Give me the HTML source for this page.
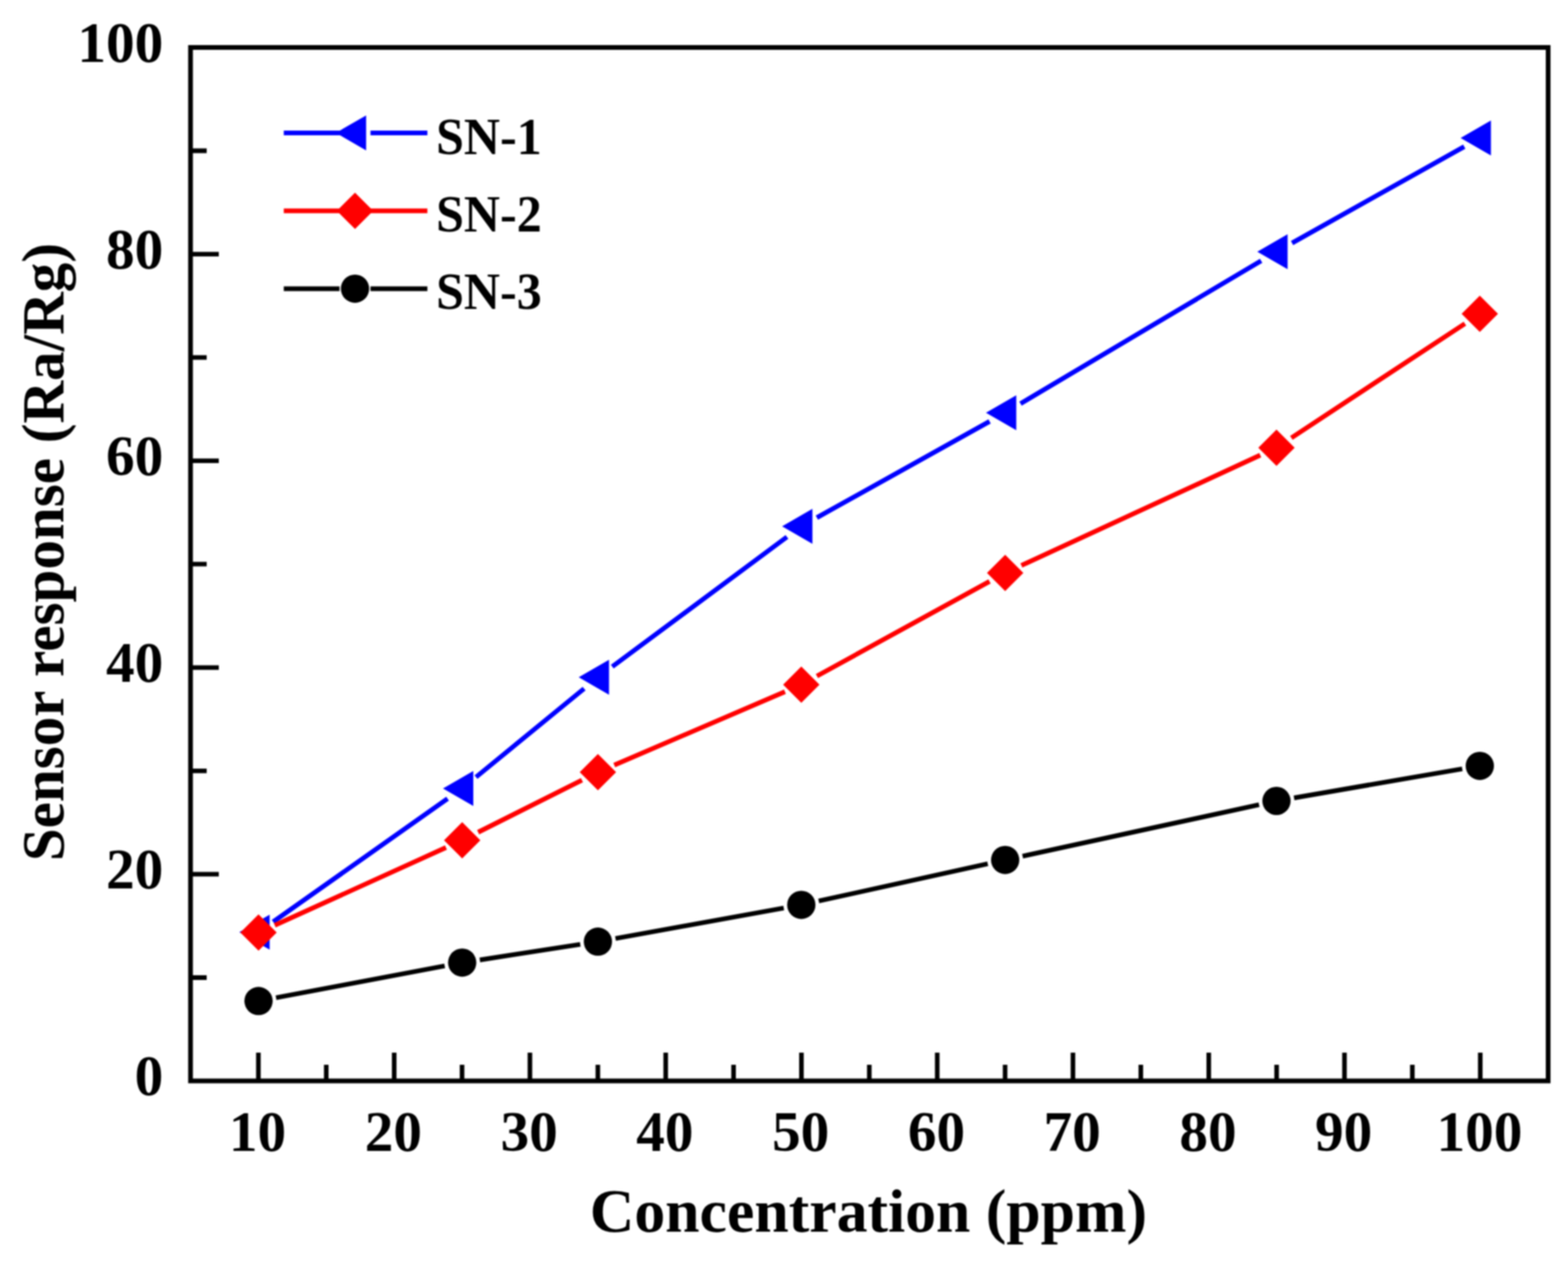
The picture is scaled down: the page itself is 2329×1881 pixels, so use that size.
<!DOCTYPE html>
<html><head><meta charset="utf-8"><title>Sensor response vs concentration</title>
<style>html,body{margin:0;padding:0;background:#fff;overflow:hidden;}svg{display:block;}#w{filter:blur(1px);}</style></head>
<body><div id="w"><svg width="2329" height="1881" viewBox="0 0 2329 1881">
<rect width="2329" height="1881" fill="#fff"/>
<rect x="283.0" y="70.5" width="2016.5" height="1535.5" fill="none" stroke="#000" stroke-width="7"/>
<path d="M283.0 1452.5H307.0M283.0 1298.9H325.0M283.0 1145.3H307.0M283.0 991.8H325.0M283.0 838.2H307.0M283.0 684.7H325.0M283.0 531.2H307.0M283.0 377.6H325.0M283.0 224.0H307.0M383.8 1606.0V1564.0M484.6 1606.0V1582.0M585.5 1606.0V1564.0M686.3 1606.0V1582.0M787.1 1606.0V1564.0M888.0 1606.0V1582.0M988.8 1606.0V1564.0M1089.6 1606.0V1582.0M1190.4 1606.0V1564.0M1291.2 1606.0V1582.0M1392.1 1606.0V1564.0M1492.9 1606.0V1582.0M1593.7 1606.0V1564.0M1694.5 1606.0V1582.0M1795.4 1606.0V1564.0M1896.2 1606.0V1582.0M1997.0 1606.0V1564.0M2097.8 1606.0V1582.0M2198.7 1606.0V1564.0" stroke="#000" stroke-width="6.8" fill="none"/>
<path d="M405.7 1369.6L664.8 1186.7M707.0 1154.6L867.6 1023.1M909.4 990.5L1168.9 797.8M1213.3 769.1L1469.9 626.1M1515.8 599.7L1873.2 387.5M1919.1 361.1L2174.9 217.9" fill="none" stroke="#0000FF" stroke-width="7" stroke-linecap="butt"/>
<path fill="#0000FF" d="M355.5 1384.9L400.5 1358.9L400.5 1410.9ZM658.0 1171.4L703.0 1145.4L703.0 1197.4ZM859.6 1006.3L904.6 980.3L904.6 1032.3ZM1161.7 782.0L1206.7 756.0L1206.7 808.0ZM1464.5 613.2L1509.5 587.2L1509.5 639.2ZM1867.5 374.0L1912.5 348.0L1912.5 400.0ZM2169.5 205.0L2214.5 179.0L2214.5 231.0Z"/>
<path d="M408.1 1374.7L662.4 1259.3M710.2 1236.5L864.4 1159.2M912.4 1136.8L1165.9 1027.7M1213.4 1004.5L1469.8 863.9M1517.1 840.1L1871.9 676.3M1918.1 650.6L2175.9 480.8" fill="none" stroke="#FF0000" stroke-width="7" stroke-linecap="butt"/>
<path fill="#FF0000" d="M384.0 1358.6L411.0 1385.6L384.0 1412.6L357.0 1385.6ZM686.5 1221.4L713.5 1248.4L686.5 1275.4L659.5 1248.4ZM888.1 1120.3L915.1 1147.3L888.1 1174.3L861.1 1147.3ZM1190.2 990.2L1217.2 1017.2L1190.2 1044.2L1163.2 1017.2ZM1493.0 824.2L1520.0 851.2L1493.0 878.2L1466.0 851.2ZM1896.0 638.2L1923.0 665.2L1896.0 692.2L1869.0 665.2ZM2198.0 439.2L2225.0 466.2L2198.0 493.2L2171.0 466.2Z"/>
<path d="M410.0 1482.4L660.5 1435.1M712.7 1426.2L861.9 1403.1M914.2 1394.4L1164.1 1349.1M1216.1 1338.7L1467.1 1283.4M1518.9 1272.1L1870.1 1195.6M1922.1 1185.5L2171.9 1142.4" fill="none" stroke="#000000" stroke-width="7" stroke-linecap="butt"/>
<g fill="#000"><circle cx="384.0" cy="1487.3" r="21"/><circle cx="686.5" cy="1430.2" r="21"/><circle cx="888.1" cy="1399.1" r="21"/><circle cx="1190.2" cy="1344.4" r="21"/><circle cx="1493.0" cy="1277.7" r="21"/><circle cx="1896.0" cy="1190.0" r="21"/><circle cx="2198.0" cy="1137.9" r="21"/></g>
<path d="M421.5 197.4H507.29999999999995M550.3 197.4H634.8" stroke="#0000FF" stroke-width="7"/><path fill="#0000FF" d="M498.8 197.4L543.8 171.4L543.8 223.4Z"/><path d="M421.5 313.2H634.8" stroke="#FF0000" stroke-width="7"/><path fill="#FF0000" d="M527.3 286.2L554.3 313.2L527.3 340.2L500.3 313.2Z"/><path d="M421.5 428.9H504.29999999999995M550.3 428.9H634.8" stroke="#000" stroke-width="7"/><g fill="#000"><circle cx="527.3" cy="428.9" r="21"/></g>
<g font-family="'Liberation Serif', 'Times New Roman', serif" font-weight="bold" fill="#000"><text x="647.7" y="229.2" font-size="79" textLength="156.9" lengthAdjust="spacingAndGlyphs">SN-1</text><text x="647.7" y="344.2" font-size="79" textLength="156.9" lengthAdjust="spacingAndGlyphs">SN-2</text><text x="647.7" y="459.2" font-size="79" textLength="156.9" lengthAdjust="spacingAndGlyphs">SN-3</text><text x="242.4" y="1627.3" font-size="85" text-anchor="end">0</text><text x="242.4" y="1320.2" font-size="85" text-anchor="end">20</text><text x="242.4" y="1013.1" font-size="85" text-anchor="end">40</text><text x="242.4" y="706.0" font-size="85" text-anchor="end">60</text><text x="242.4" y="398.9" font-size="85" text-anchor="end">80</text><text x="242.4" y="91.8" font-size="85" text-anchor="end">100</text><text x="382.6" y="1710" font-size="85" text-anchor="middle">10</text><text x="584.3" y="1710" font-size="85" text-anchor="middle">20</text><text x="785.9" y="1710" font-size="85" text-anchor="middle">30</text><text x="987.6" y="1710" font-size="85" text-anchor="middle">40</text><text x="1189.2" y="1710" font-size="85" text-anchor="middle">50</text><text x="1390.9" y="1710" font-size="85" text-anchor="middle">60</text><text x="1592.5" y="1710" font-size="85" text-anchor="middle">70</text><text x="1794.2" y="1710" font-size="85" text-anchor="middle">80</text><text x="1995.8" y="1710" font-size="85" text-anchor="middle">90</text><text x="2197.5" y="1710" font-size="85" text-anchor="middle">100</text><text x="876" y="1830" font-size="91.7">Concentration (ppm)</text><text transform="translate(93.5 1279.6) rotate(-90)" font-size="89" textLength="918.5" lengthAdjust="spacingAndGlyphs">Sensor response (Ra/Rg)</text></g>
</svg></div></body></html>
